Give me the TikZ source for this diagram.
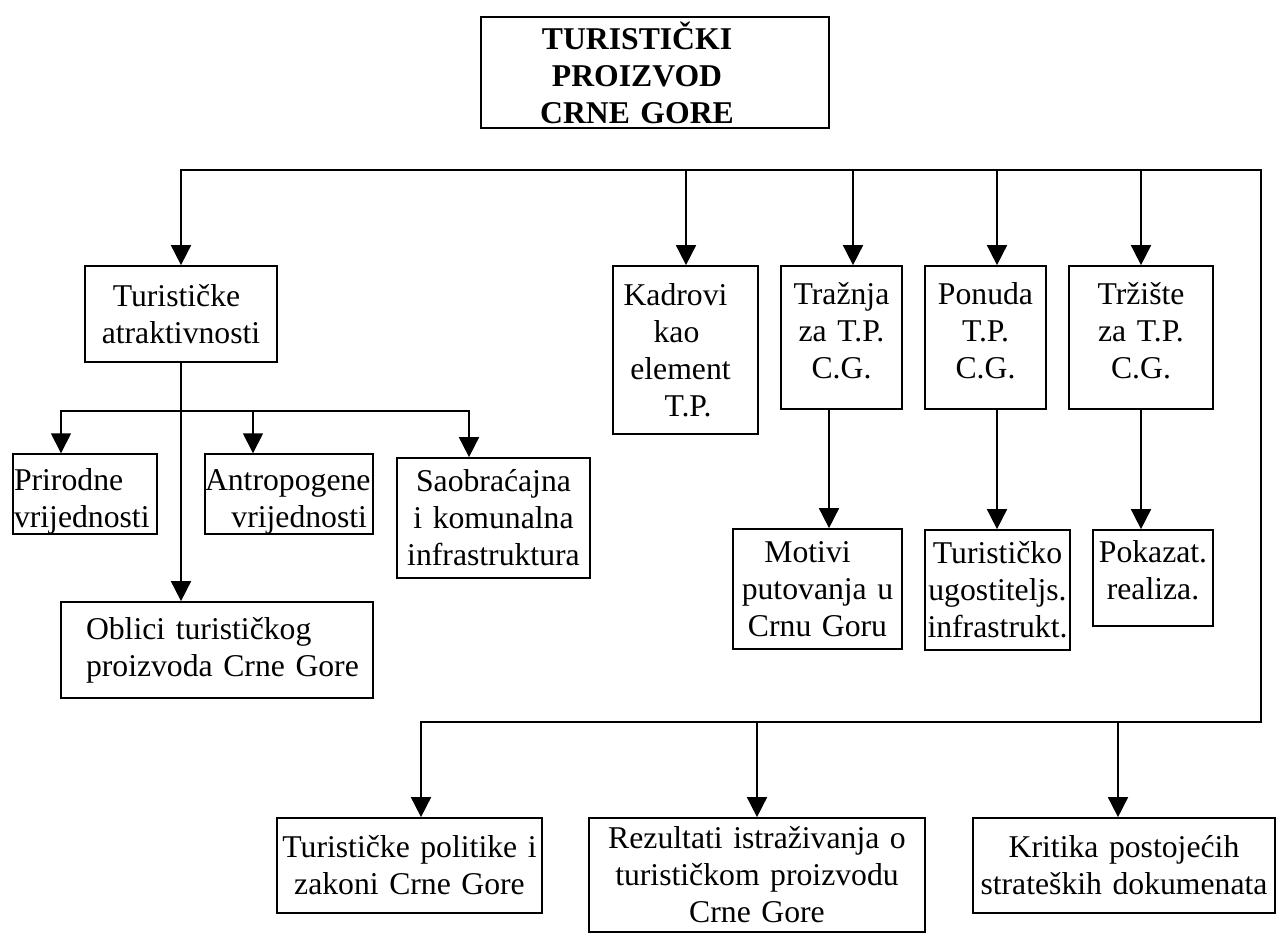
\documentclass[tikz,border=0pt]{standalone}
\usepackage{fontspec}
\setmainfont{Liberation Serif}
\usetikzlibrary{arrows.meta}
\newcommand{\trail}[1]{\hspace*{#1}\mbox{}}
\begin{document}
\begin{tikzpicture}[x=1pt,y=-1pt,line width=1.7pt,
  every node/.style={font=\fontsize{31.7}{37}\selectfont},
  box/.style={draw, line width=1.7pt, rectangle, inner sep=0pt, align=center},
  arr/.style={-{Triangle[length=20pt,width=20pt]}},
  arrboth/.style={{Triangle[length=20pt,width=20pt]}-{Triangle[length=20pt,width=20pt]}}]
\useasboundingbox (0,0) rectangle (1277,933);

% title
\node[box, font=\fontsize{31.7}{37}\selectfont\bfseries, minimum width=348pt, minimum height=111pt, text width=348pt] (top) at (655,72.5)
  {TURISTIČKI\trail{36pt}\\PROIZVOD\trail{36pt}\\CRNE GORE\trail{36pt}};

% first level
\node[box, minimum width=192pt, minimum height=96pt, text width=192pt] (atr) at (181,314)
  {Turističke\trail{9pt}\\atraktivnosti};
\node[box, minimum width=145pt, minimum height=168pt, text width=145pt] (kad) at (685.5,350)
  {Kadrovi\trail{20pt}\\kao\trail{18pt}\\element\trail{10pt}\\\hspace*{5pt}T.P.};
\node[box, minimum width=121pt, minimum height=143pt, text width=121pt] (tra) at (841.5,337.5)
  {Tražnja\\za T.P.\\C.G.\rule[-14pt]{0pt}{14pt}};
\node[box, minimum width=121pt, minimum height=143pt, text width=121pt] (pon) at (985.5,337.5)
  {Ponuda\\T.P.\\C.G.\rule[-14pt]{0pt}{14pt}};
\node[box, minimum width=144pt, minimum height=143pt, text width=144pt] (trz) at (1141,337.5)
  {Tržište\\za T.P.\\C.G.\rule[-14pt]{0pt}{14pt}};

% under Turisticke atraktivnosti
\node[box, align=left, minimum width=144pt, minimum height=72pt, text width=144pt] (pri) at (85,494)
  {\rule{0pt}{36pt}\hspace*{1pt}Prirodne\\\hspace*{1pt}vrijednosti};
\node[box, align=right, minimum width=168pt, minimum height=72pt, text width=168pt] (ant) at (289,494)
  {\rule{0pt}{36pt}Antropogene\trail{3pt}\\vrijednosti\trail{6pt}};
\node[box, minimum width=193pt, minimum height=120pt, text width=193pt] (sao) at (493.5,518)
  {Saobraćajna\\i komunalna\\infrastruktura};
\node[box, align=left, minimum width=312pt, minimum height=96pt, text width=312pt] (obl) at (217,650)
  {\hspace*{25pt}Oblici turističkog\\\hspace*{25pt}proizvoda Crne Gore};

% second level right
\node[box, minimum width=169pt, minimum height=120pt, text width=169pt] (mot) at (817.5,589)
  {Motivi\trail{20pt}\\putovanja u\\Crnu Goru};
\node[box, minimum width=145pt, minimum height=120pt, text width=145pt] (tui) at (997.5,590)
  {Turističko\\ugostiteljs.\\infrastrukt.};
\node[box, minimum width=120pt, minimum height=96pt, text width=120pt] (pok) at (1153,578)
  {Pokazat.\\realiza.\rule[-16pt]{0pt}{16pt}};

% bottom row
\node[box, minimum width=265pt, minimum height=95pt, text width=265pt] (pol) at (409.5,865.5)
  {Turističke politike i\\zakoni Crne Gore};
\node[box, minimum width=336pt, minimum height=114pt, text width=336pt] (rez) at (757,875)
  {Rezultati istraživanja o\\turističkom proizvodu\\Crne Gore};
\node[box, minimum width=302pt, minimum height=95pt, text width=302pt] (kri) at (1124,865.5)
  {Kritika postojećih\\strateških dokumenata};

% junction coordinates
\coordinate (tl) at (181,170);
\coordinate (tr) at (1261,170);
\coordinate (br) at (1261,722);
\coordinate (bl) at (421,722);
\coordinate (jkad) at (686,170);
\coordinate (jtra) at (853,170);
\coordinate (jpon) at (997,170);
\coordinate (jtrz) at (1141,170);
\coordinate (lbl) at (61,411);
\coordinate (lbr) at (469,411);
\coordinate (jant) at (253,411);
\coordinate (jrez) at (757,722);
\coordinate (jkri) at (1118,722);
\coordinate (xtra) at (829,0);
\coordinate (xpon) at (997,0);

% connectors
\draw[arrboth] (atr.north) -- (tl) -- (tr) -- (br) -- (bl) -- (bl |- pol.north);
\draw[arr] (jkad) -- (jkad |- kad.north);
\draw[arr] (jtra) -- (jtra |- tra.north);
\draw[arr] (jpon) -- (jpon |- pon.north);
\draw[arr] (jtrz) -- (jtrz |- trz.north);
\draw[arr] (jrez) -- (jrez |- rez.north);
\draw[arr] (jkri) -- (jkri |- kri.north);

\draw[arr] (atr.south) -- (atr.south |- obl.north);
\draw[arrboth] (lbl |- pri.north) -- (lbl) -- (lbr) -- (lbr |- sao.north);
\draw[arr] (jant) -- (jant |- ant.north);

\draw[arr] (xtra |- tra.south) -- (xtra |- mot.north);
\draw[arr] (xpon |- pon.south) -- (xpon |- tui.north);
\draw[arr] (trz.south) -- (trz.south |- pok.north);
\end{tikzpicture}
\end{document}
